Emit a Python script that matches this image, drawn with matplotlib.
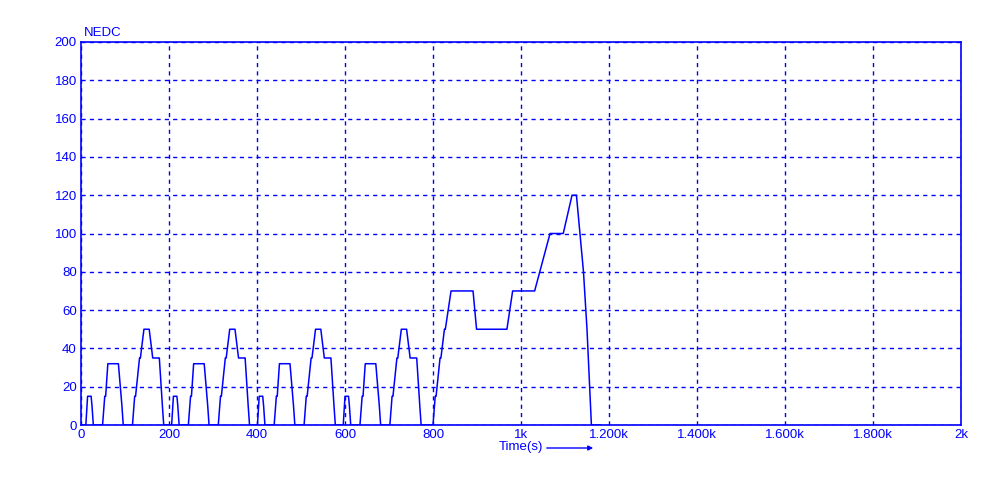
import numpy as np
import matplotlib.pyplot as plt

# ECE-15 urban cycle breakpoints (time s, speed km/h), repeated 4 times
ece_t = [0, 11, 15, 23, 25, 28, 49, 54, 56, 61, 85, 93, 96, 117, 122, 124, 133, 135,
         143, 155, 163, 176, 178, 185, 188, 195]
ece_v = [0, 0, 15, 15, 10, 0, 0, 15, 15, 32, 32, 10, 0, 0, 15, 15, 35, 35,
         50, 50, 35, 35, 35, 10, 0, 0]

# extra-urban part, starts at 780 s
eudc_t = [780, 800, 805, 807, 816, 818, 826, 828, 841, 891, 899, 968, 981, 1031,
          1066, 1096, 1116, 1126, 1142, 1150, 1160, 1180]
eudc_v = [0, 0, 15, 15, 35, 35, 50, 50, 70, 70, 50, 50, 70, 70,
          100, 100, 120, 120, 80, 50, 0, 0]

x_ticks = [0, 200, 400, 600, 800, 1000, 1200, 1400, 1600, 1800, 2000]
x_labels = ["0", "200", "400", "600", "800", "1k", "1.200k", "1.400k", "1.600k", "1.800k", "2k"]
y_ticks = list(range(0, 201, 20))

t = []
v = []
for k in range(4):
    t += [x + 195 * k for x in ece_t]
    v += ece_v
t += eudc_t
v += eudc_v

blue = "#0000ff"
plt.rcParams['font.family'] = ['Liberation Sans', 'DejaVu Sans']

fig = plt.figure(figsize=(10, 5), dpi=100)
ax = fig.add_axes([0.081, 0.15, 0.88, 0.766])
ax.plot(t, v, color=blue, lw=1.1)

ax.set_xlim(0, 2000)
ax.set_ylim(0, 200)
ax.set_xticks(x_ticks)
ax.set_xticklabels(x_labels)
ax.set_yticks(y_ticks)
ax.grid(True, color=blue, ls=(0, (3, 3)), lw=1)
ax.tick_params(colors=blue, labelcolor=blue, labelsize=9.5, length=0, pad=3)
for s in ax.spines.values():
    s.set_color(blue)
    s.set_linewidth(1.2)

fig.text(0.084, 0.922, "NEDC", color=blue, fontsize=9.5, va="bottom", ha="left")
fig.text(0.499, 0.106, "Time(s)", color=blue, fontsize=9.5, va="center", ha="left")
ax.annotate("", xy=(0.596, 0.104), xytext=(0.544, 0.104), xycoords="figure fraction",
            arrowprops=dict(arrowstyle="-|>", color=blue, lw=1, mutation_scale=7))

fig.savefig("out.png", dpi=100)
